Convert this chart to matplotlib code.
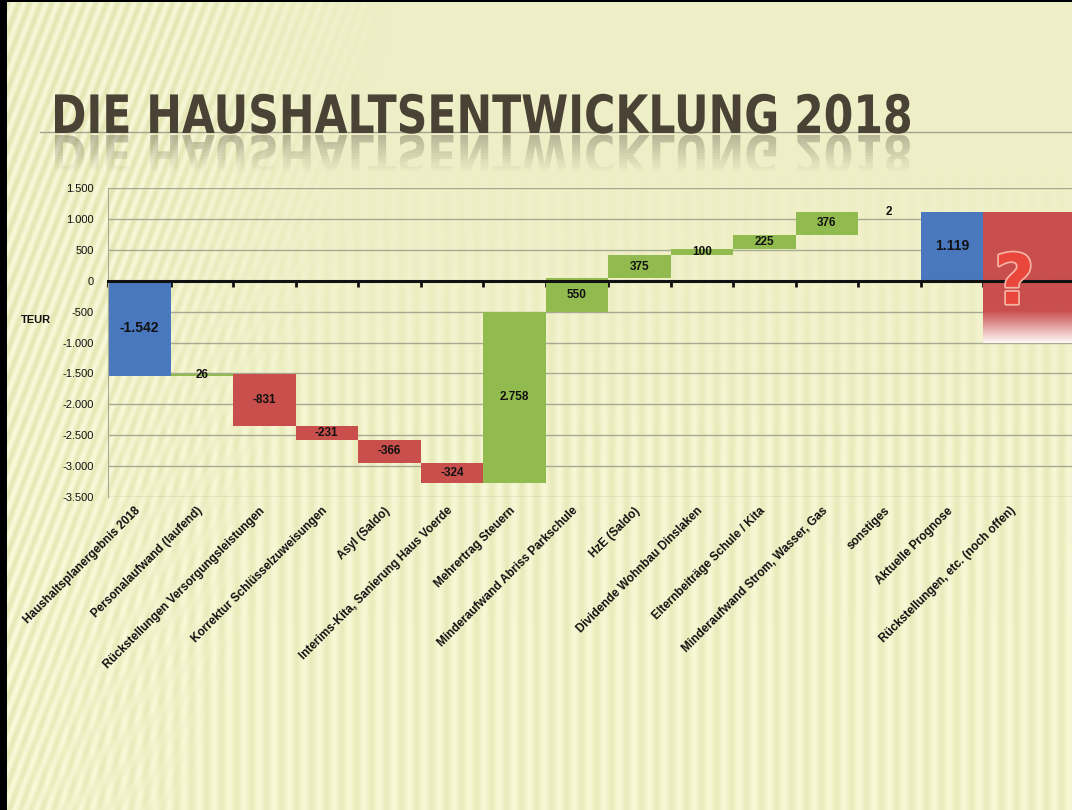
import numpy as np
import matplotlib
matplotlib.use("Agg")
import matplotlib.pyplot as plt
from matplotlib import font_manager
from matplotlib.textpath import TextPath
from matplotlib.patches import PathPatch, Rectangle
from matplotlib.transforms import Affine2D, blended_transform_factory
from matplotlib.ticker import FuncFormatter
import matplotlib.patheffects as pe

# data (TEUR)
categories = [
    "Haushaltsplanergebnis 2018",
    "Personalaufwand (laufend)",
    "Rückstellungen Versorgungsleistungen",
    "Korrektur Schlüsselzuweisungen",
    "Asyl (Saldo)",
    "Interims-Kita, Sanierung Haus Voerde",
    "Mehrertrag Steuern",
    "Minderaufwand Abriss Parkschule",
    "HzE (Saldo)",
    "Dividende Wohnbau Dinslaken",
    "Elternbeiträge Schule / Kita",
    "Minderaufwand Strom, Wasser, Gas",
    "sonstiges",
    "Aktuelle Prognose",
    "Rückstellungen, etc. (noch offen)",
]
values = [-1542, 26, -831, -231, -366, -324, 2758, 550, 375, 100, 225, 376, 2, 1119]
is_total = [True, False, False, False, False, False, False, False, False, False, False, False, False, True]
open_top = 1119      # "noch offen" block
open_bottom = -1000
yticks = list(range(-3500, 1501, 500))

title_text = "DIE HAUSHALTSENTWICKLUNG 2018"

BLUE = "#4A78BE"
RED = "#C94F4D"
GREEN = "#92BB4F"
BG = np.array([0xEE, 0xEF, 0xC6]) / 255.0

installed = {f.name for f in font_manager.fontManager.ttflist}
title_family = "Liberation Sans Narrow" if "Liberation Sans Narrow" in installed else "DejaVu Sans"
plt.rcParams["font.family"] = ["Liberation Sans", "DejaVu Sans"]

W, H = 1072, 810
fig = plt.figure(figsize=(W / 100, H / 100), dpi=100)

# ---- slide background -------------------------------------------------
bg = fig.add_axes([0, 0, 1, 1], zorder=-5)
bg.set_xlim(0, W)
bg.set_ylim(H, 0)
bg.axis("off")
X, Y = np.meshgrid(np.arange(W), np.arange(H))
diag = np.sin(2 * np.pi * (X + 0.38 * Y) / 11.0)
w_d = np.clip((400 - X - 0.25 * Y) / 220.0, 0, 1)
vert = np.sin(2 * np.pi * X / 15.0)
w_v = np.clip((Y - 160) / 280.0, 0, 1) * (1 - w_d) * 0.7
light = np.clip((Y - 120) / 500.0, 0, 1)
img = np.ones((H, W, 3)) * BG
amp = np.array([0.035, 0.035, 0.07])
img += (diag * w_d)[..., None] * amp + (vert * w_v)[..., None] * amp
img += (light * 0.012)[..., None]
img = np.clip(img, 0, 1)
bg.imshow(img, extent=[0, W, H, 0], aspect="auto", interpolation="bilinear")

# frame of the slide
bg.add_patch(Rectangle((0, 0), 7, H, color="black", lw=0))
bg.add_patch(Rectangle((0, 0), W, 2, color="black", lw=0))

# title + reflection
fp = font_manager.FontProperties(family=title_family, weight="bold")
tp = TextPath((0, 0), title_text, size=100, prop=fp)
ext = tp.get_extents()
sx = 855 / ext.width
sy = 40 / ext.height
main_tr = Affine2D().translate(-ext.x0, 0).scale(sx, -sy).translate(55, 133)
bg.add_patch(PathPatch(main_tr.transform_path(tp), color="#4A4234", lw=0, zorder=3))
bg.plot([40, W], [132, 132], color="#A3A38E", lw=1, zorder=2)
refl_tr = Affine2D().translate(-ext.x0, 0).scale(sx, sy).translate(55, 135)
refl_path = refl_tr.transform_path(tp)
n_bands = 12
for k in range(n_bands):
    p = PathPatch(refl_path, color="#4A4234", lw=0, alpha=0.32 * (1 - k / n_bands), zorder=3)
    bg.add_patch(p)
    clip = Rectangle((0, 135 + k * 3), W, 3, transform=bg.transData, visible=False)
    bg.add_patch(clip)
    p.set_clip_path(clip)

# ---- waterfall chart --------------------------------------------------
left, right, top, bottom = 108, W, 188, 497
ax = fig.add_axes([left / W, (H - bottom) / H, (right - left) / W, (bottom - top) / H])
ax.patch.set_alpha(0)

bottoms, heights, colors = [], [], []
running = 0
for v, tot in zip(values, is_total):
    if tot:
        bottoms.append(0)
        running = v
        colors.append(BLUE)
    else:
        bottoms.append(running)
        running += v
        colors.append(GREEN if v > 0 else RED)
    heights.append(v)

xs = np.arange(len(values))
ax.bar(xs, heights, bottom=bottoms, width=1.0, color=colors, lw=0, zorder=2)


def fmt(v):
    return f"{v:,}".replace(",", ".")


for x, b, h, tot in zip(xs, bottoms, heights, is_total):
    ax.text(x, b + h / 2, fmt(h), ha="center", va="center",
            fontsize=10 if tot else 8.5, fontweight="bold", color="#111111", zorder=4)

# open block with gradient fade
n = 300
vals = np.linspace(open_top, open_bottom, n)
t = np.clip((-480 - vals) / 520.0, 0, 1)[:, None]
red_rgb = np.array(matplotlib.colors.to_rgb(RED))
grad = red_rgb * (1 - t) + np.array([1.0, 0.97, 0.97]) * t
grad = np.repeat(grad[:, None, :], 2, axis=1)
ax.imshow(grad, extent=[13.5, 15.5, open_bottom, open_top], aspect="auto",
          origin="upper", zorder=2, interpolation="bilinear")
ax.text(14, -60, "?", ha="center", va="center", fontsize=50, fontweight="bold",
        color="#E9473C", family="DejaVu Sans", zorder=5,
        path_effects=[pe.withStroke(linewidth=2.5, foreground="#F6B4A6")])

ax.set_xlim(-0.5, -0.5 + (right - left) / 62.5)
ax.set_ylim(-3500, 1500)
ax.set_yticks(yticks)
ax.yaxis.set_major_formatter(FuncFormatter(lambda v, p: fmt(int(v))))
ax.tick_params(axis="y", length=0, pad=10, labelsize=8, labelcolor="#111111")
ax.grid(axis="y", color="#A8A993", lw=1)
ax.set_axisbelow(True)
for s in ["top", "right"]:
    ax.spines[s].set_visible(False)
ax.spines["left"].set_color("#A8A993")
ax.spines["bottom"].set_position(("data", 0))
ax.spines["bottom"].set_linewidth(2.2)
ax.spines["bottom"].set_color("#111111")
ax.spines["bottom"].set_zorder(3)
ax.set_xticks(np.arange(-0.5, 15.0, 1.0))
ax.set_xticklabels([])
ax.tick_params(axis="x", direction="out", length=4, width=2, color="#111111")

tr = blended_transform_factory(ax.transData, ax.transAxes)
for i, c in enumerate(categories):
    ax.text(i - 0.08, -0.025, c, transform=tr, rotation=45, rotation_mode="anchor",
            ha="right", va="top", fontsize=8.5, fontweight="bold", color="#111111")

fig.text(21 / W, 1 - 320 / H, "TEUR", ha="left", va="center", fontsize=8,
         fontweight="bold", color="#111111")

fig.savefig("out.png", dpi=100)
